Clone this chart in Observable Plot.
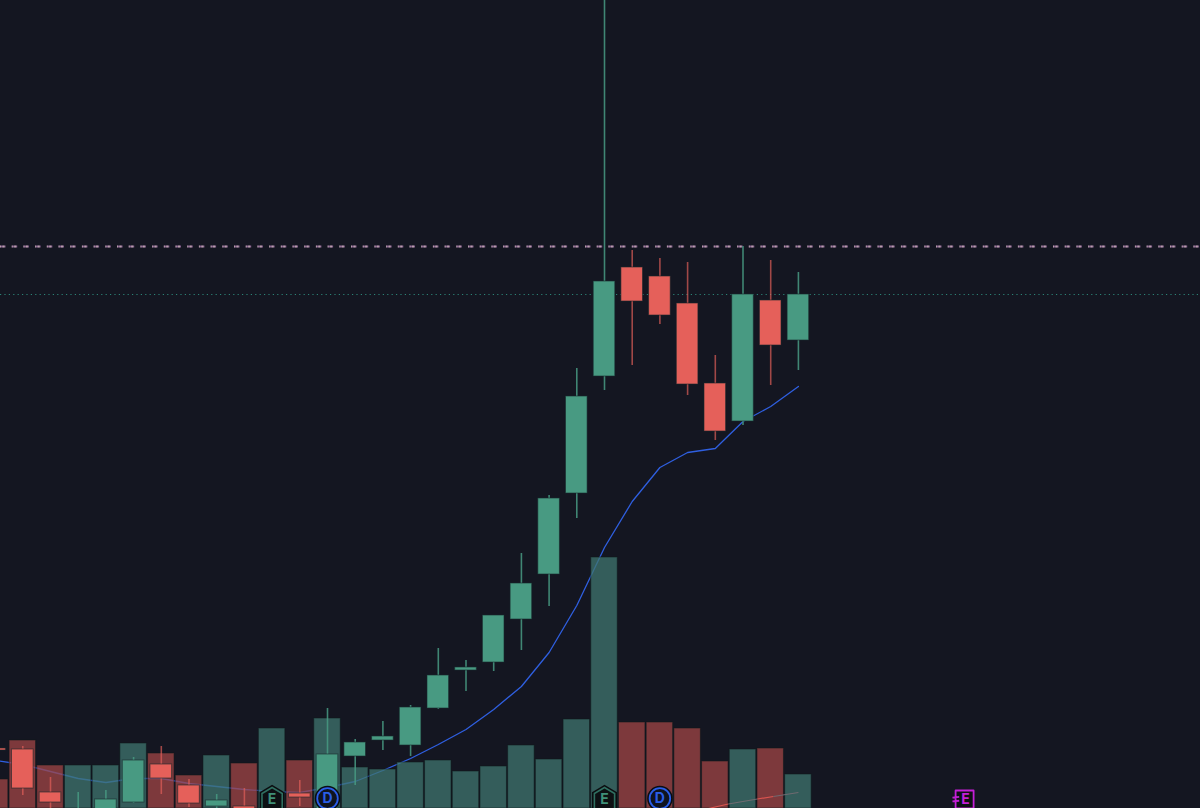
<!DOCTYPE html>
<html>
<head>
<meta charset="utf-8">
<style>html,body{margin:0;padding:0;background:#141621;overflow:hidden}svg{display:block}</style>
<script src="https://cdn.jsdelivr.net/npm/d3@7"></script>
<script src="https://cdn.jsdelivr.net/npm/@observablehq/plot@0.6"></script>
</head>
<body>
<div id="chart"></div>
<script>
const bars   = d3.range(-1, 29);
const opens  = [60,59,16,-12,-4,6,44,23,2,2,-14,15,-7,52,68,63,100,138,146,189,234,315,432,541,532,505,425,387,508,468];
const closes = [58,20,6,-3,9,48,30,5,8,-2,-8,11,54,66,72,101,133,141,193,225,310,412,527,507,493,424,377,514,463,514];
const highs  = [60,62,31,16,18,51,62,29,14,20,-6,28,100,69,87,103,160,148,193,255,313,440,830,558,550,546,453,562,548,536];
const lows   = [58,13,-2,-15,-8,5,14,1,-4,-4,-16,2,-10,23,58,52,99,117,137,158,202,290,418,443,484,413,368,383,423,438];
const volumes= [29,68,43,43,43,65,55,33,53,45,80,48,90,41,39,46,48,37,42,63,49,89,251,86,86,80,47,59,60,34];
const average= [48,44,37,30,26,30,30,25,22,19,17,16,21,27,38,50,64,79,99,122,156,203,261,307,341,356,360,387,402,422];
const oscX   = [24.75,25.47,26.52,27.1,28];
const oscY   = [0,4.5,9.5,12,16];
const oscColors = ["#d9544f","#6f6a70","#d9544f","#6f6a70"];
const levelDashed = 562;
const levelDotted = 514;
const signalBars = [9,21];
const dividendBars = [11,23];
const futureBar = 34;
const markerLevel = 10;

const UP = "#489a82", DOWN = "#e5605a", UPV = "#3f766f", DOWNV = "#a04645", BG = "#141621";
const candles = bars.map((b, k) => ({b, o: opens[k], c: closes[k], h: highs[k], l: lows[k], v: volumes[k], ma: average[k], up: closes[k] >= opens[k]}));
const pentagon = {draw(c, s){const r = Math.sqrt(s / Math.PI); c.moveTo(0,-r); c.lineTo(r*.92,-r*.45); c.lineTo(r*.92,r*.95); c.lineTo(-r*.92,r*.95); c.lineTo(-r*.92,-r*.45); c.closePath();}};
const futureIcon = {draw(c, s){const r = Math.sqrt(s / Math.PI); c.moveTo(-r,-r); c.lineTo(r,-r); c.lineTo(r,r); c.lineTo(-r,r); c.closePath();
  c.moveTo(-r*1.35,-r*.22); c.lineTo(-r*.6,-r*.3); c.moveTo(-r*1.35,r*.22); c.lineTo(-r*.6,r*.14);}};

const plot = Plot.plot({
  width: 1200, height: 808,
  marginTop: 0, marginRight: 0, marginBottom: 0, marginLeft: 0,
  style: {background: BG},
  x: {type: "linear", domain: [-0.805, 42.516], range: [0, 1200], axis: null},
  y: {type: "linear", domain: [0, 808], range: [808, 0], axis: null},
  marks: [
    Plot.ruleY([levelDotted], {stroke: "#2f8f7f", strokeWidth: 1, strokeDasharray: "1.2,3.2", strokeOpacity: .9}),
    Plot.ruleY([levelDashed], {stroke: "#86608f", strokeWidth: 2, strokeDasharray: "5.5,6.2"}),
    Plot.ruleY([levelDashed], {stroke: "#ecdcc8", strokeWidth: 2, strokeDasharray: "1,1.5,2,7.2", strokeOpacity: .5}),
    Plot.line(candles, {x: "b", y: "ma", stroke: "#2f5fe0", strokeWidth: 1.3, curve: "linear"}),
    Plot.rect(candles, {x1: d => d.b - .478, x2: d => d.b + .478, y1: 0, y2: "v", fill: d => d.up ? UPV : DOWNV, fillOpacity: .75, stroke: "#0e1a1c", strokeOpacity: .55, strokeWidth: 1}),
    Plot.link(d3.range(4), {x1: k => oscX[k], x2: k => oscX[k+1], y1: k => oscY[k], y2: k => oscY[k+1], stroke: k => oscColors[k], strokeWidth: 1.2}),
    Plot.ruleX(candles, {x: "b", y1: "l", y2: "h", stroke: d => d.up ? UP : DOWN, strokeOpacity: d => d.up ? .85 : .68, strokeWidth: 1.6}),
    Plot.rect(candles, {x1: d => d.b - .39, x2: d => d.b + .39, y1: "o", y2: "c", fill: d => d.up ? UP : DOWN, stroke: "#17282b", strokeOpacity: .6, strokeWidth: 1}),
    Plot.dot(signalBars, {x: d => d, y: markerLevel, r: 12, symbol: pentagon, fill: "#0d1013", stroke: "#0b0d10", strokeWidth: 3}),
    Plot.dot(signalBars, {x: d => d, y: markerLevel, r: 11, symbol: pentagon, fill: "#0d1013", stroke: "#2f6f60", strokeWidth: 1.6}),
    Plot.text(signalBars, {x: d => d, y: markerLevel - 1, text: () => "E", fill: "#3f8f78", fontSize: 14, fontWeight: 700, fontFamily: "Inter, sans-serif"}),
    Plot.dot(dividendBars, {x: d => d, y: markerLevel, r: 12, fill: "#0b0d12", stroke: "#0b0d12", strokeWidth: 1.5}),
    Plot.dot(dividendBars, {x: d => d, y: markerLevel, r: 10.3, fill: "#0f1420", stroke: "#2a5ee8", strokeWidth: 1.8}),
    Plot.text(dividendBars, {x: d => d, y: markerLevel, text: () => "D", fill: "#2a5ee8", fontSize: 14, fontWeight: 700, fontFamily: "Inter, sans-serif"}),
    Plot.dot([futureBar], {x: d => d, y: markerLevel - 1, r: 9, symbol: futureIcon, fill: "#0d1013", stroke: "#c31fd6", strokeWidth: 1.8, strokeLinejoin: "round"}),
    Plot.text([futureBar], {x: d => d + .03, y: markerLevel - 1, text: () => "E", fill: "#c31fd6", fontSize: 14, fontWeight: 700, fontFamily: "Inter, sans-serif"})
  ]
});
document.getElementById("chart").appendChild(plot);
</script>
</body>
</html>
